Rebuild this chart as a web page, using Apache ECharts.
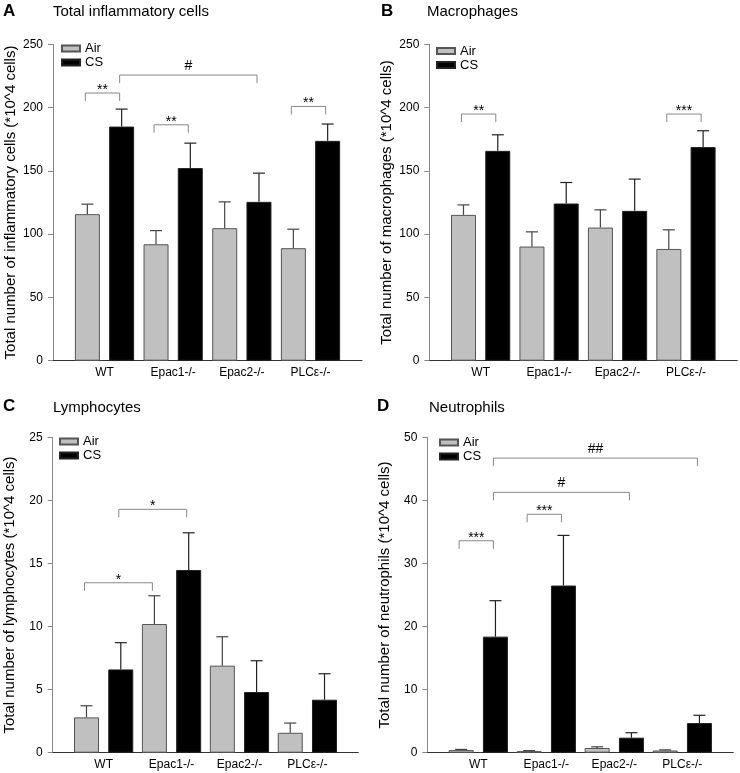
<!DOCTYPE html>
<html><head><meta charset="utf-8">
<script src="https://cdn.jsdelivr.net/npm/echarts@6/dist/echarts.min.js"></script>
<style>html,body{margin:0;padding:0;background:#fff}#c{width:740px;height:773px}</style>
</head><body><div id="c"></div>
<script>
// ---------- data ----------
const categories = ['WT', 'Epac1-/-', 'Epac2-/-', 'PLCε-/-'];
const seriesNames = ['Air', 'CS'];
const panelLetters = ['A', 'B', 'C', 'D'];
const panelTitles = ['Total inflammatory cells', 'Macrophages', 'Lymphocytes', 'Neutrophils'];
const yAxisNames = [
  'Total number of inflammatory cells (*10^4 cells)',
  'Total number of macrophages (*10^4 cells)',
  'Total number of lymphocytes (*10^4 cells)',
  'Total number of neutrophils (*10^4 cells)'
];
const yMax = [250, 250, 25, 50];
const yInterval = [50, 50, 5, 10];

// A: total inflammatory cells
const totalAir = [115.8, 92.0, 104.7, 88.9];
const totalAirErr = [7.9, 10.8, 20.8, 15.0];
const totalCS = [185.0, 152.2, 125.5, 173.7];
const totalCSErr = [13.8, 19.7, 22.7, 13.3];
// B: macrophages
const macroAir = [115.2, 90.2, 105.2, 88.3];
const macroAirErr = [7.9, 11.6, 14.0, 15.1];
const macroCS = [165.8, 124.2, 118.4, 168.8];
const macroCSErr = [12.7, 16.6, 25.1, 12.9];
// C: lymphocytes
const lymphAir = [2.8, 10.2, 6.9, 1.58];
const lymphAirErr = [0.92, 2.24, 2.29, 0.77];
const lymphCS = [6.6, 14.48, 4.81, 4.2];
const lymphCSErr = [2.12, 2.95, 2.48, 2.06];
// D: neutrophils
const neutAir = [0.42, 0.25, 0.75, 0.35];
const neutAirErr = [0.1, 0.08, 0.18, 0.1];
const neutCS = [18.4, 26.5, 2.38, 4.7];
const neutCSErr = [5.7, 7.95, 0.79, 1.23];

// significance brackets: [fromGroup, fromSeries(0 Air/1 CS), toGroup, toSeries, lineValue, label]
const bracketsA = [[0, 0, 0, 1, 211.5, '**'], [1, 0, 1, 1, 186.4, '**'], [0, 1, 2, 1, 225.7, '#'], [3, 0, 3, 1, 200.9, '**']];
const bracketsB = [[0, 0, 0, 1, 194.9, '**'], [3, 0, 3, 1, 194.9, '***']];
const bracketsC = [[0, 0, 1, 0, 13.47, '*'], [0, 1, 1, 1, 19.29, '*']];
const bracketsD = [[0, 0, 0, 1, 33.6, '***'], [1, 0, 1, 1, 37.8, '***'], [0, 1, 2, 1, 41.27, '#'], [0, 1, 3, 1, 46.7, '##']];

const panels = [
  { air: totalAir, airErr: totalAirErr, cs: totalCS, csErr: totalCSErr, brackets: bracketsA },
  { air: macroAir, airErr: macroAirErr, cs: macroCS, csErr: macroCSErr, brackets: bracketsB },
  { air: lymphAir, airErr: lymphAirErr, cs: lymphCS, csErr: lymphCSErr, brackets: bracketsC },
  { air: neutAir, airErr: neutAirErr, cs: neutCS, csErr: neutCSErr, brackets: bracketsD }
];

// ---------- layout / style ----------
const FONT = '"Liberation Sans", Arial, sans-serif';
const grids = [
  { left: 53, top: 44.3, width: 309, height: 316.4 },
  { left: 429.3, top: 44.3, width: 308, height: 316.4 },
  { left: 52.7, top: 437.3, width: 305.6, height: 315.4 },
  { left: 427.3, top: 437.3, width: 306, height: 315.4 }
];
const letterPos = [[3, 3], [381, 3], [3, 398], [377, 398]];
const titlePos = [[53, 4], [427, 4], [53, 400], [429, 400]];
const legendPos = [[61, 42], [436, 44.5], [59, 435], [439, 436]];
const BAR_W = 25;
const BAR_OFF = 17.15;
const LEG = 8;

function errRender(side) {
  return function (params, api) {
    const x = api.value(0), v = api.value(1), e = api.value(2);
    const p0 = api.coord([x, v]);
    const p1 = api.coord([x, v + e]);
    const cx = p0[0] + side * BAR_OFF;
    const stroke = side < 0 ? '#444' : '#222';
    return {
      type: 'group',
      children: [
        { type: 'line', shape: { x1: cx, y1: p0[1], x2: cx, y2: p1[1] }, style: { stroke: stroke, lineWidth: 1.2 } },
        { type: 'line', shape: { x1: cx - 6, y1: p1[1], x2: cx + 6, y2: p1[1] }, style: { stroke: stroke, lineWidth: 1.2 } }
      ]
    };
  };
}

function bracketRender(list) {
  return function (params, api) {
    const b = list[params.dataIndex];
    const p1 = api.coord([b[0], b[4]]);
    const p2 = api.coord([b[2], b[4]]);
    const x1 = p1[0] + (b[1] ? 1 : -1) * BAR_OFF - 2;
    const x2 = p2[0] + (b[3] ? 1 : -1) * BAR_OFF - 2;
    const y = p1[1];
    const isHash = b[5].indexOf('#') >= 0;
    return {
      type: 'group',
      children: [
        { type: 'polyline', shape: { points: [[x1, y + LEG], [x1, y], [x2, y], [x2, y + LEG]] }, style: { stroke: '#888', lineWidth: 1, fill: null } },
        { type: 'text', x: (x1 + x2) / 2, y: isHash ? y - 2 : y + 4,
          style: { text: b[5], fill: '#000', font: '14px ' + FONT, align: 'center', verticalAlign: 'bottom' } }
      ]
    };
  };
}

const option = {
  animation: false,
  backgroundColor: '#fff',
  title: [],
  legend: [],
  grid: grids,
  xAxis: [],
  yAxis: [],
  series: []
};

panels.forEach(function (p, i) {
  option.title.push({ text: panelLetters[i], left: letterPos[i][0], top: letterPos[i][1], padding: 0,
    textStyle: { fontSize: 17, fontWeight: 'bold', color: '#000', fontFamily: FONT } });
  option.title.push({ text: panelTitles[i], left: titlePos[i][0], top: titlePos[i][1], padding: 0,
    textStyle: { fontSize: 15, fontWeight: 'normal', color: '#000', fontFamily: FONT } });
  option.legend.push({
    data: seriesNames, orient: 'vertical', left: legendPos[i][0], top: legendPos[i][1], padding: 0,
    itemWidth: 18, itemHeight: 6, itemGap: 1, icon: 'rect', selectedMode: false,
    textStyle: { fontSize: 13, color: '#000', fontFamily: FONT, lineHeight: 13 }
  });
  option.xAxis.push({
    type: 'value', gridIndex: i, min: -0.75, max: 3.75,
    axisLine: { show: true, onZero: false, lineStyle: { color: '#333', width: 1 } },
    axisTick: { show: false }, splitLine: { show: false },
    axisLabel: { customValues: [0, 1, 2, 3], formatter: function (v) { return categories[Math.round(v)]; },
      color: '#000', fontSize: 12, fontFamily: FONT, margin: 6 }
  });
  option.yAxis.push({
    type: 'value', gridIndex: i, min: 0, max: yMax[i], interval: yInterval[i],
    axisLine: { show: true, onZero: false, lineStyle: { color: '#888', width: 1 } },
    axisTick: { show: true, length: 5, lineStyle: { color: '#888' } },
    splitLine: { show: false },
    axisLabel: { color: '#000', fontSize: 12, fontFamily: FONT, margin: 10 },
    name: yAxisNames[i], nameLocation: 'middle', nameGap: 35,
    nameTextStyle: { fontSize: 15, color: '#000', fontFamily: FONT }
  });
  option.series.push({
    type: 'bar', name: 'Air', xAxisIndex: i, yAxisIndex: i, barWidth: BAR_W, barGap: '37%',
    data: p.air.map(function (v, k) { return [k, v]; }),
    itemStyle: { color: '#c0c0c0', borderColor: '#555', borderWidth: 1 }, silent: true
  });
  option.series.push({
    type: 'bar', name: 'CS', xAxisIndex: i, yAxisIndex: i, barWidth: BAR_W, barGap: '37%',
    data: p.cs.map(function (v, k) { return [k, v]; }),
    itemStyle: { color: '#000', borderColor: '#222', borderWidth: 1 }, silent: true
  });
  option.series.push({
    type: 'custom', name: 'errAir' + i, xAxisIndex: i, yAxisIndex: i, z: 3, silent: true,
    data: p.air.map(function (v, k) { return [k, v, p.airErr[k]]; }), renderItem: errRender(-1)
  });
  option.series.push({
    type: 'custom', name: 'errCS' + i, xAxisIndex: i, yAxisIndex: i, z: 3, silent: true,
    data: p.cs.map(function (v, k) { return [k, v, p.csErr[k]]; }), renderItem: errRender(1)
  });
  option.series.push({
    type: 'custom', name: 'sig' + i, xAxisIndex: i, yAxisIndex: i, z: 4, silent: true,
    data: p.brackets.map(function (b) { return [b[0], b[4]]; }), renderItem: bracketRender(p.brackets)
  });
});

const chart = echarts.init(document.getElementById('c'), null, { renderer: 'canvas' });
chart.setOption(option);
</script>
</body></html>
